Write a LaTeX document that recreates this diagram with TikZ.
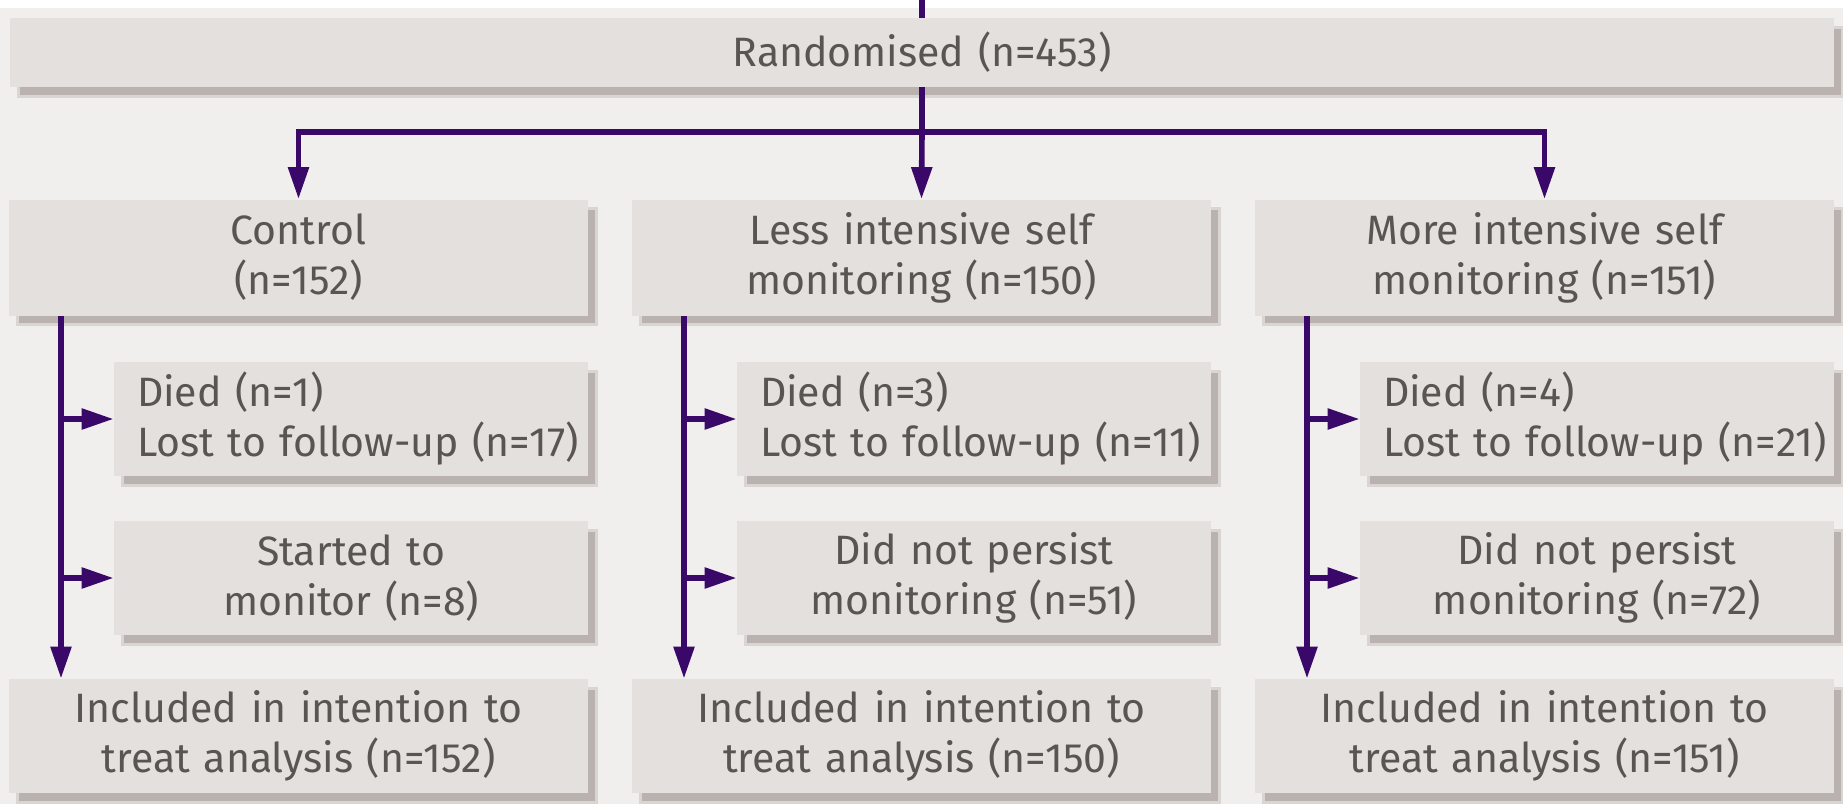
\documentclass[tikz,border=0pt]{standalone}
\usepackage{fontspec}
\setmainfont{Fira Sans}
\usetikzlibrary{arrows.meta,shadows}
\definecolor{bgc}{HTML}{F0EFED}
\definecolor{boxc}{HTML}{E4E0DD}
\definecolor{shdark}{HTML}{BAB2AF}
\definecolor{shlight}{HTML}{D9D5D2}
\definecolor{purp}{HTML}{3A0868}
\definecolor{txtc}{HTML}{5A5452}
\newcommand{\boxfont}{\fontsize{20.5}{25}\selectfont}
\newcommand{\ind}{\hspace*{11.5pt}}
\begin{document}
\begin{tikzpicture}[x=0.5pt,y=-0.5pt,
  box/.style={fill=boxc, text=txtc, inner xsep=0pt, inner ysep=0pt, align=center, font=\boxfont,
    drop shadow={shadow xshift=4pt, shadow yshift=-4.5pt, fill=shdark, draw=shlight, line width=1.5pt, opacity=1}},
  colbox/.style={box, text width=289.5pt, minimum height=58pt},
  sidebox/.style={box, text width=237pt, align=left, minimum height=57pt},
  sidecbox/.style={box, text width=237pt, minimum height=57pt},
  conn/.style={draw=purp, line width=2.8pt},
  arr/.style={conn, -{Triangle[length=16pt,width=10pt]}}]
\useasboundingbox (0,0) rectangle (1843,804);
\fill[bgc] (0,8) rectangle (1843,804);
% top row
\node[box, text width=912pt, minimum height=34.5pt] (rand) at (922,52.5) {Randomised (n=453)};
\coordinate (top) at (922,0);
\coordinate (hub) at (922,132);
% columns
\node[colbox] (c1) at (298.5,257.5) {Control\\(n=152)};
\node[colbox] (c2) at (921.5,257.5) {Less intensive self\\monitoring (n=150)};
\node[colbox] (c3) at (1544.5,257.5) {More intensive self\\monitoring (n=151)};
% side boxes
\node[sidebox] (s1a) at (351,419) {\ind Died (n=1)\\\ind Lost to follow-up (n=17)};
\node[sidebox] (s2a) at (974,419) {\ind Died (n=3)\\\ind Lost to follow-up (n=11)};
\node[sidebox] (s3a) at (1597,419) {\ind Died (n=4)\\\ind Lost to follow-up (n=21)};
\node[sidecbox] (s1b) at (351,578) {Started to\\monitor (n=8)};
\node[sidecbox] (s2b) at (974,578) {Did not persist\\monitoring (n=51)};
\node[sidecbox] (s3b) at (1597,578) {Did not persist\\monitoring (n=72)};
% final boxes
\node[colbox, minimum height=57pt] (f1) at (298.5,736) {Included in intention to\\treat analysis (n=152)};
\node[colbox, minimum height=57pt] (f2) at (921.5,736) {Included in intention to\\treat analysis (n=150)};
\node[colbox, minimum height=57pt] (f3) at (1544.5,736) {Included in intention to\\treat analysis (n=151)};
% spines
\coordinate (x1) at (61,0);
\coordinate (x2) at (684,0);
\coordinate (x3) at (1307,0);
% connectors
\draw[conn] (top) -- (rand.north);
\draw[conn] (rand.south) -- (hub);
\draw[arr] (hub) -| (c1.north);
\draw[arr] (hub) -- (c2.north);
\draw[arr] (hub) -| (c3.north);
\draw[arr] (c1.south -| x1) -- (f1.north -| x1);
\draw[arr] (c2.south -| x2) -- (f2.north -| x2);
\draw[arr] (c3.south -| x3) -- (f3.north -| x3);
\draw[arr] (s1a.west -| x1) -- (s1a.west);
\draw[arr] (s1b.west -| x1) -- (s1b.west);
\draw[arr] (s2a.west -| x2) -- (s2a.west);
\draw[arr] (s2b.west -| x2) -- (s2b.west);
\draw[arr] (s3a.west -| x3) -- (s3a.west);
\draw[arr] (s3b.west -| x3) -- (s3b.west);
\end{tikzpicture}
\end{document}
